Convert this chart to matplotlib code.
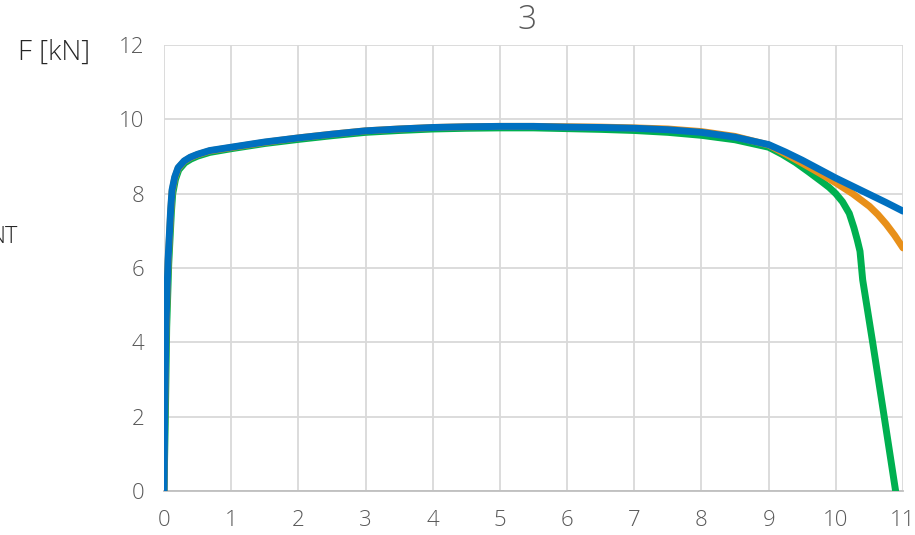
import numpy as np
import matplotlib.pyplot as plt

# dane (x, F [kN])
x_blue = [0, 0.01, 0.03, 0.06, 0.08, 0.1, 0.12, 0.16, 0.21, 0.3, 0.39, 0.5, 0.68, 1, 1.5, 2, 2.5,
          3, 3.5, 4, 4.5, 5, 5.5, 6, 6.5, 7, 7.5, 8, 8.5, 9, 9.25, 9.5, 9.75, 10, 10.25, 10.5,
          10.75, 11]
y_blue = [0, 2.0, 4.5, 6.2, 6.9, 7.6, 8.1, 8.45, 8.7, 8.88, 8.98, 9.06, 9.16, 9.25, 9.39, 9.5, 9.6,
          9.69, 9.74, 9.78, 9.8, 9.81, 9.81, 9.79, 9.78, 9.76, 9.72, 9.65, 9.52, 9.32, 9.12, 8.9,
          8.66, 8.42, 8.2, 7.98, 7.76, 7.53]

x_orange = [0, 0.01, 0.03, 0.06, 0.08, 0.1, 0.12, 0.16, 0.21, 0.3, 0.39, 0.5, 0.68, 1, 1.5, 2, 2.5,
            3, 3.5, 4, 4.5, 5, 5.5, 6, 6.5, 7, 7.5, 8, 8.5, 9, 9.25, 9.5, 9.75, 10, 10.25, 10.5,
            10.625, 10.75, 10.875, 11]
y_orange = [0, 1.9, 4.4, 6.1, 6.8, 7.5, 8.05, 8.42, 8.68, 8.87, 8.97, 9.05, 9.15, 9.24, 9.38, 9.5, 9.6,
            9.69, 9.74, 9.78, 9.8, 9.81, 9.81, 9.8, 9.79, 9.77, 9.74, 9.67, 9.54, 9.31, 9.07, 8.82,
            8.56, 8.29, 8.0, 7.66, 7.44, 7.18, 6.88, 6.54]

x_green = [0, 0.02, 0.04, 0.07, 0.09, 0.11, 0.13, 0.17, 0.22, 0.31, 0.4, 0.5, 0.68, 1, 1.5, 2, 2.5,
           3, 3.5, 4, 4.5, 5, 5.5, 6, 6.5, 7, 7.5, 8, 8.5, 9, 9.2, 9.4, 9.6, 9.8, 9.9, 10, 10.1,
           10.2, 10.27, 10.32, 10.36, 10.4, 10.55, 10.72, 10.89]
y_green = [0, 2.0, 4.4, 6.1, 6.8, 7.5, 8.0, 8.38, 8.64, 8.83, 8.93, 9.01, 9.11, 9.21, 9.35, 9.46, 9.56,
           9.65, 9.7, 9.74, 9.76, 9.77, 9.77, 9.75, 9.73, 9.7, 9.65, 9.57, 9.45, 9.25, 9.06, 8.84,
           8.58, 8.31, 8.17, 8.0, 7.78, 7.47, 7.08, 6.75, 6.45, 5.68, 3.98, 2.0, 0]

fig = plt.figure(figsize=(9.15, 5.35), dpi=100)
ax = fig.add_axes([164/915, 44/535, 739/915, 446/535])

lw = 5.0
ax.plot(x_green, y_green, color='#00b050', lw=lw, solid_capstyle='round', zorder=3)
ax.plot(x_orange, y_orange, color='#e8901a', lw=lw, solid_capstyle='round', zorder=4)
ax.plot(x_blue, y_blue, color='#0070c0', lw=lw, solid_capstyle='round', zorder=5)

ax.set_xlim(0, 11)
ax.set_ylim(0, 12)
ax.set_xticks(range(0, 12))
ax.set_yticks(range(0, 13, 2))
ax.grid(True, color='#d9d9d9', lw=1.3, zorder=0)
ax.set_axisbelow(True)
for s in ['top', 'right', 'left']:
    ax.spines[s].set_visible(False)
ax.spines['bottom'].set_color('#bfbfbf')
ax.spines['bottom'].set_linewidth(1.3)
ax.tick_params(length=0, labelsize=16, labelcolor='#595959', pad=14)
for lab in ax.get_xticklabels() + ax.get_yticklabels():
    lab.set_fontfamily('Open Sans')
    lab.set_fontweight('light')

fig.text(527/915, 1 - 20/535, '3', ha='center', va='center', fontsize=24,
         color='#595959', family='Open Sans', weight='light')
fig.text(54/915, 1 - 53/535, 'F [kN]', ha='center', va='center', fontsize=20,
         color='#262626', family='Open Sans', weight='light')
fig.text(18/915, 1 - 237/535, 'NT', ha='right', va='center', fontsize=17,
         color='#262626', family='Open Sans', weight='light')

fig.savefig('out.png', dpi=100)
